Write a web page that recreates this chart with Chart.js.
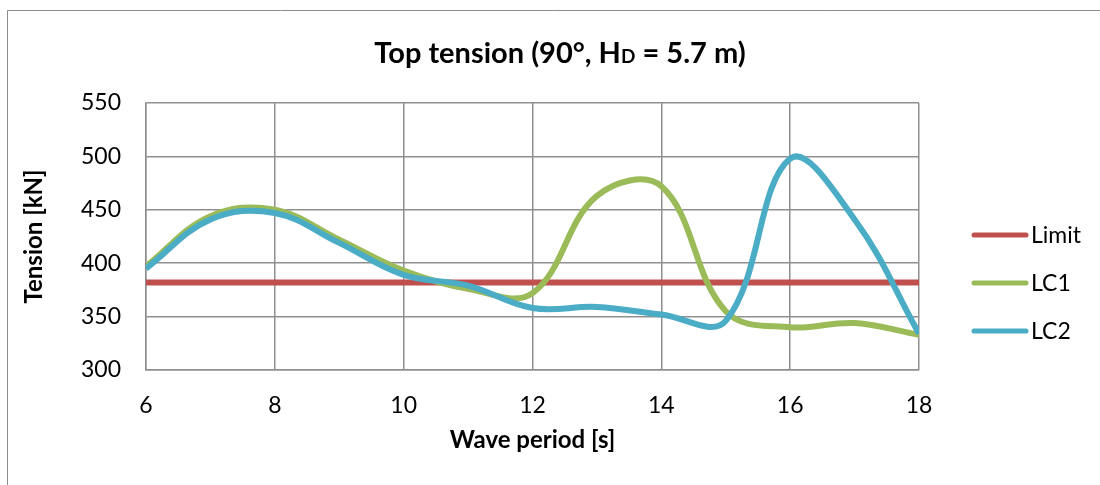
<!DOCTYPE html>
<html>
<head>
<meta charset="utf-8">
<title>Top tension</title>
<script src="https://cdn.jsdelivr.net/npm/chart.js@4.4.1/dist/chart.umd.min.js"></script>
<style>
  html, body { margin: 0; padding: 0; background: #ffffff; }
  #wrap { position: relative; width: 1100px; height: 485px; }
  canvas { display: block; }
</style>
</head>
<body>
<div id="wrap"><canvas id="chart" width="1100" height="485"></canvas></div>
<script>
// Wave periods [s]
const periods = [6, 7, 8, 9, 10, 11, 12, 13, 14, 15, 16, 17, 18];
// Allowed top tension [kN]
const limitPeriods = [6, 18];
const limitTension = [382, 382];
// Top tension per load case [kN]
const lc1Tension = [397, 444, 450, 422, 393, 376, 372, 463, 472, 355, 340, 344, 333];
const lc2Tension = [395, 441, 447, 419, 389, 379, 358, 359, 352, 346, 498, 441, 334];
// Axis ticks
const xTicks = [6, 8, 10, 12, 14, 16, 18];
const yTicks = [300, 350, 400, 450, 500, 550];

const seriesNames = ['Limit', 'LC1', 'LC2'];
const seriesColors = ['#C0504D', '#9BBB59', '#4BACC6'];

const FONT = 'Lato, "Open Sans", "Liberation Sans", sans-serif';
const GRID = '#8f8f8f';

const toPoints = (xs, ys) => xs.map((x, i) => ({ x: x, y: ys[i] }));

// Frame, heading and side key drawn around the plot
const framePlugin = {
  id: 'frame',
  beforeDraw(chart) {
    const ctx = chart.ctx;
    ctx.save();
    ctx.fillStyle = '#ffffff';
    ctx.fillRect(0, 0, chart.width, chart.height);
    ctx.strokeStyle = '#8c8c8c';
    ctx.lineWidth = 1;
    ctx.beginPath();
    ctx.moveTo(7.5, chart.height);
    ctx.lineTo(7.5, 10.5);
    ctx.lineTo(chart.width, 10.5);
    ctx.stroke();
    ctx.restore();
  },
  afterDraw(chart) {
    const ctx = chart.ctx;
    ctx.save();
    // heading with subscript-sized "D"
    const big = 'bold 29px ' + FONT;
    const small = 'bold 19px ' + FONT;
    const parts = [
      { t: 'Top tension (90\u00B0, H', f: big },
      { t: 'D', f: small },
      { t: ' = 5.7 m)', f: big }
    ];
    let total = 0;
    parts.forEach(p => { ctx.font = p.f; p.w = ctx.measureText(p.t).width; total += p.w; });
    let x = 560 - total / 2;
    const baseY = 63;
    ctx.fillStyle = '#000000';
    ctx.textBaseline = 'alphabetic';
    ctx.textAlign = 'left';
    parts.forEach(p => { ctx.font = p.f; ctx.fillText(p.t, x, baseY); x += p.w; });

    // side key
    const keyY = [235, 283, 331];
    chart.data.datasets.forEach((ds, i) => {
      ctx.strokeStyle = ds.borderColor;
      ctx.lineWidth = 5;
      ctx.lineCap = 'round';
      ctx.beginPath();
      ctx.moveTo(974, keyY[i]);
      ctx.lineTo(1026, keyY[i]);
      ctx.stroke();
      ctx.fillStyle = '#000000';
      ctx.font = '23px ' + FONT;
      ctx.textBaseline = 'middle';
      ctx.fillText(ds.label, 1031, keyY[i] + 1);
    });
    ctx.restore();
  }
};

const datasets = [
  { label: seriesNames[0], data: toPoints(limitPeriods, limitTension), order: 3, tension: 0 },
  { label: seriesNames[1], data: toPoints(periods, lc1Tension), order: 2, tension: 0.38 },
  { label: seriesNames[2], data: toPoints(periods, lc2Tension), order: 1, tension: 0.38 }
].map((d, i) => Object.assign(d, {
  borderColor: seriesColors[i],
  backgroundColor: seriesColors[i],
  borderWidth: 6,
  pointRadius: 0,
  pointHoverRadius: 0,
  fill: false,
  borderCapStyle: 'butt',
  borderJoinStyle: 'round'
}));

new Chart(document.getElementById('chart'), {
  type: 'line',
  data: { datasets: datasets },
  options: {
    responsive: false,
    animation: false,
    events: [],
    layout: { padding: { left: 0, top: 103, right: 181, bottom: 0 } },
    plugins: {
      legend: { display: false },
      title: { display: false },
      tooltip: { enabled: false }
    },
    scales: {
      x: {
        type: 'linear',
        min: 6,
        max: 18,
        afterFit(scale) { scale.height = 115; },
        afterBuildTicks(scale) { scale.ticks = xTicks.map(v => ({ value: v })); },
        grid: { color: GRID, lineWidth: 1.5, drawTicks: false },
        border: { color: GRID, width: 1.5 },
        ticks: { padding: 22, color: '#000000', font: { family: FONT, size: 23 } },
        title: {
          display: true,
          text: 'Wave period [s]',
          color: '#000000',
          font: { family: FONT, size: 24, weight: 'bold' },
          padding: { top: 0, bottom: 30 }
        }
      },
      y: {
        type: 'linear',
        min: 300,
        max: 550,
        afterFit(scale) { scale.width = 146; },
        afterBuildTicks(scale) { scale.ticks = yTicks.map(v => ({ value: v })); },
        grid: { color: GRID, lineWidth: 1.5, drawTicks: false },
        border: { color: GRID, width: 1.5 },
        ticks: { padding: 25, color: '#000000', font: { family: FONT, size: 23 } },
        title: {
          display: true,
          text: 'Tension [kN]',
          color: '#000000',
          font: { family: FONT, size: 24, weight: 'bold' },
          padding: { top: 20, bottom: 0 }
        }
      }
    }
  },
  plugins: [framePlugin]
});
</script>
</body>
</html>
